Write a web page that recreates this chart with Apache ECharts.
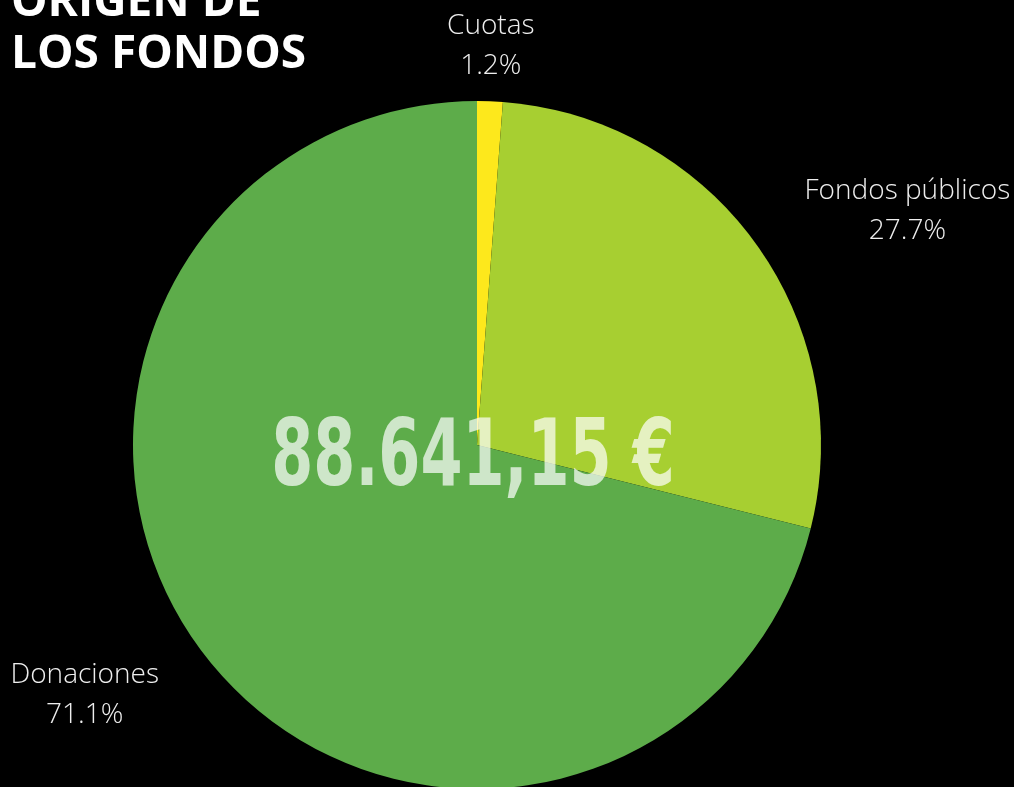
<!DOCTYPE html>
<html>
<head>
<meta charset="utf-8">
<script src="https://cdn.jsdelivr.net/npm/echarts@6/dist/echarts.min.js"></script>
<style>
  html, body { margin: 0; padding: 0; background: #000; }
  #chart { width: 1014px; height: 787px; }
</style>
</head>
<body>
<div id="chart"></div>
<script>
const categories = ['Cuotas', 'Fondos públicos', 'Donaciones'];
const shares = [1.2, 27.7, 71.1];
const colors = ['#fde81c', '#a7cf31', '#5dac4a'];
const totalText = '88.641,15 €';
const titleText = 'ORIGEN DE\nLOS FONDOS';

// per-slice label offsets (outward length, horizontal length)
const labelLengths = [55, 55, 62];
const labelLengths2 = [-45, 4, -2];

const chart = echarts.init(document.getElementById('chart'));

const pieData = categories.map((name, i) => ({
  name,
  value: shares[i],
  itemStyle: { color: colors[i] },
  labelLine: { length: labelLengths[i], length2: labelLengths2[i] }
}));

chart.setOption({
  backgroundColor: '#000',
  animation: false,
  title: {
    text: titleText,
    left: 6,
    top: -28,
    textStyle: {
      color: '#fff',
      fontFamily: 'Open Sans',
      fontWeight: 'bold',
      fontSize: 46,
      lineHeight: 52
    }
  },
  series: [{
    type: 'pie',
    center: [477, 445],
    radius: 344,
    startAngle: 90,
    clockwise: true,
    avoidLabelOverlap: false,
    itemStyle: { borderWidth: 0 },
    label: {
      show: true,
      position: 'outside',
      distanceToLabelLine: 0,
      formatter: (p) => `{a|${p.name}}\n{a|${p.percent.toFixed(1)}%}`,
      rich: {
        a: {
          align: 'center',
          color: '#eeeeee',
          fontFamily: 'Open Sans',
          fontWeight: 300,
          fontSize: 28,
          lineHeight: 40
        }
      }
    },
    labelLine: { show: false },
    data: pieData
  }],
  graphic: [{
    type: 'text',
    x: 473,
    y: 461,
    z: 100,
    scaleX: 0.65,
    silent: true,
    style: {
      text: totalText,
      x: 0,
      y: 0,
      align: 'center',
      verticalAlign: 'middle',
      fill: 'rgba(255,255,255,0.7)',
      fontFamily: 'DejaVu Sans',
      fontWeight: 'bold',
      fontSize: 93
    }
  }]
});
</script>
</body>
</html>
